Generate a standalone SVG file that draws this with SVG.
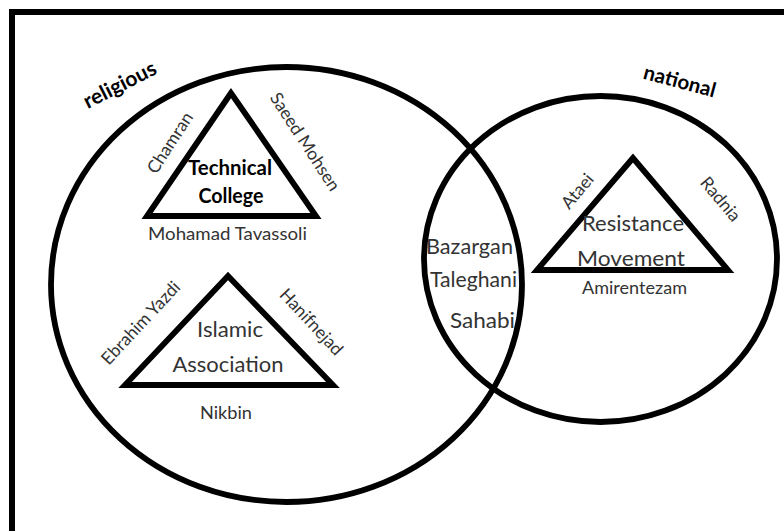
<svg xmlns="http://www.w3.org/2000/svg" width="784" height="531" viewBox="0 0 784 531">
<style>
.shape{fill:none;stroke:#000;stroke-width:5.8;stroke-linejoin:miter}
.lbl{font-family:Lato,"Liberation Sans",sans-serif;fill:#333;font-size:17.5px}
.big{font-family:Lato,"Liberation Sans",sans-serif;fill:#333;font-size:21px}
.bold{font-family:Lato,"Liberation Sans",sans-serif;fill:#000;font-weight:bold}
</style>
<rect x="0" y="0" width="784" height="531" fill="#fff"/>
<rect id="frame" x="12" y="12" width="800" height="560" fill="none" stroke="#000" stroke-width="6"/>
<g id="religious">
  <ellipse class="shape" cx="286.5" cy="284.5" rx="235.5" ry="217.5"/>
  <text class="bold" font-size="21" text-anchor="middle" transform="translate(123 91) rotate(-27)">religious</text>
</g>
<g id="national">
  <ellipse class="shape" cx="600.5" cy="259" rx="176.5" ry="163"/>
  <text class="bold" font-size="20.5" text-anchor="middle" transform="translate(678 88) rotate(15)">national</text>
</g>
<g id="technical-college">
  <polygon class="shape" points="231,93 147,216 316,216"/>
  <text class="bold" font-size="20" text-anchor="middle" x="230" y="175" textLength="84" lengthAdjust="spacingAndGlyphs">Technical</text>
  <text class="bold" font-size="20" text-anchor="middle" x="231" y="203" textLength="65" lengthAdjust="spacingAndGlyphs">College</text>
  <text class="lbl" text-anchor="middle" transform="translate(175 146) rotate(-57)">Chamran</text>
  <text class="lbl" text-anchor="middle" transform="translate(300 145) rotate(57)">Saeed Mohsen</text>
  <text class="lbl" text-anchor="middle" x="227.5" y="240" textLength="159" lengthAdjust="spacingAndGlyphs">Mohamad Tavassoli</text>
</g>
<g id="islamic-association">
  <polygon class="shape" points="228,276 125,385 333,385"/>
  <text class="big" text-anchor="middle" x="230" y="337" textLength="66" lengthAdjust="spacingAndGlyphs">Islamic</text>
  <text class="big" text-anchor="middle" x="228" y="372" textLength="111" lengthAdjust="spacingAndGlyphs">Association</text>
  <text class="lbl" text-anchor="middle" transform="translate(145 327) rotate(-47)">Ebrahim Yazdi</text>
  <text class="lbl" text-anchor="middle" transform="translate(307 326) rotate(47)">Hanifnejad</text>
  <text class="lbl" text-anchor="middle" x="226" y="419" textLength="52" lengthAdjust="spacingAndGlyphs">Nikbin</text>
</g>
<g id="overlap">
  <text class="big" x="426" y="254" textLength="87" lengthAdjust="spacingAndGlyphs">Bazargan</text>
  <text class="big" x="430" y="287" textLength="87" lengthAdjust="spacingAndGlyphs">Taleghani</text>
  <text class="big" x="450" y="328" textLength="65" lengthAdjust="spacingAndGlyphs">Sahabi</text>
</g>
<g id="resistance-movement">
  <polygon class="shape" points="633,158 537,270 728,270"/>
  <text class="big" text-anchor="middle" x="633" y="231" textLength="102" lengthAdjust="spacingAndGlyphs">Resistance</text>
  <text class="big" text-anchor="middle" x="631" y="266" textLength="108" lengthAdjust="spacingAndGlyphs">Movement</text>
  <text class="lbl" text-anchor="middle" transform="translate(582 195) rotate(-50)">Ataei</text>
  <text class="lbl" text-anchor="middle" transform="translate(716 203) rotate(50)">Radnia</text>
  <text class="lbl" text-anchor="middle" x="634.5" y="294" textLength="105" lengthAdjust="spacingAndGlyphs">Amirentezam</text>
</g>
<g id="connectors"></g>
</svg>
